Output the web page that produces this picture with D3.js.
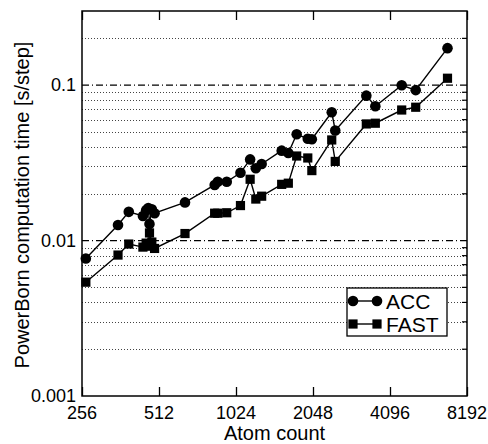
<!DOCTYPE html>
<html>
<head>
<meta charset="utf-8">
<script src="https://cdn.jsdelivr.net/npm/d3@7/dist/d3.min.js"></script>
<style>
 body { margin: 0; background: #fff; }
 text { font-family: "Liberation Sans", Arial, sans-serif; fill: #000; }
</style>
</head>
<body>
<script>
 // *** atom counts (shared by both series)
 var atoms = [265, 354, 390, 443, 456, 465, 470, 480, 492, 647, 845, 869, 942, 1066, 1163, 1224, 1290,
  1545, 1640, 1768, 1954, 2027, 2424, 2502, 3310, 3589, 4551, 5163, 6873];

 // *** computation time [s/step]
 var accTime = [0.00766, 0.0126, 0.0153, 0.0144, 0.0157, 0.0162, 0.0128, 0.0159, 0.0150, 0.0176, 0.0228, 0.0239,
  0.0239, 0.0273, 0.0333, 0.0292, 0.0311, 0.0379, 0.0366, 0.0483, 0.0452, 0.0449, 0.0669, 0.0511, 0.0856,
  0.0731, 0.0999, 0.0929, 0.173];
 var fastTime = [0.0054, 0.00807, 0.0095, 0.00908, 0.00963, 0.0092, 0.0112, 0.00978, 0.0089, 0.0111, 0.0150,
  0.0150, 0.0151, 0.0168, 0.0248, 0.0185, 0.0193, 0.0230, 0.0234, 0.0350, 0.0340, 0.0282, 0.0444, 0.0323,
  0.0563, 0.0569, 0.0692, 0.0721, 0.1108];

 var xTicks = [256, 512, 1024, 2048, 4096, 8192];
 var yTicks = [0.001, 0.01, 0.1];
 var seriesNames = ["ACC", "FAST"];

 var width = 488
 var height = 444
 var plotLeft = 82, plotRight = 467, plotTop = 11, plotBottom = 396;

 var svg = d3.select('body')
  .append('svg')
  .attr('width', width)
  .attr('height', height);

 var xScale = d3.scaleLog().base(2)
  .domain([256, 8192])
  .range([plotLeft, plotRight]);

 var yScale = d3.scaleLog()
  .domain([0.001, 0.3])
  .range([plotBottom, plotTop]);

 // *** horizontal grid: dotted minors, dashed decades
 var minors = [];
 [0.001, 0.01, 0.1].forEach(function(dec) {
  for (var k = 2; k <= 9; k++) {
   var v = dec * k;
   if (v < 0.29) minors.push(v);
  }
 });

 svg.append('g').selectAll('line')
  .data(minors)
  .enter()
  .append('line')
  .attr('x1', plotLeft).attr('x2', plotRight)
  .attr('y1', function(d) { return Math.round(yScale(d)) + 0.5 })
  .attr('y2', function(d) { return Math.round(yScale(d)) + 0.5 })
  .attr('stroke', '#444')
  .attr('stroke-width', 1)
  .attr('stroke-dasharray', '1,2');

 svg.append('g').selectAll('line')
  .data([0.01, 0.1])
  .enter()
  .append('line')
  .attr('x1', plotLeft).attr('x2', plotRight)
  .attr('y1', function(d) { return yScale(d) }).attr('y2', function(d) { return yScale(d) })
  .attr('stroke', '#000')
  .attr('stroke-width', 1.2)
  .attr('stroke-dasharray', '7,3,1,3');

 // *** right side minor ticks
 svg.append('g').selectAll('line')
  .data(minors)
  .enter()
  .append('line')
  .attr('x1', plotRight - 5).attr('x2', plotRight)
  .attr('y1', function(d) { return yScale(d) }).attr('y2', function(d) { return yScale(d) })
  .attr('stroke', '#000')
  .attr('stroke-width', 1.2);

 //x axis (inward ticks bottom and top)
 var xAxis = d3.axisTop(xScale).tickValues(xTicks).tickSize(9).tickFormat('');
 svg.append('g')
  .attr('transform', 'translate(0,' + plotBottom + ')')
  .call(xAxis)
  .call(function(g) { g.select('.domain').remove(); })
  .selectAll('line').attr('stroke-width', 1.3);

 var xAxisTop = d3.axisBottom(xScale).tickValues(xTicks).tickSize(9).tickFormat('');
 svg.append('g')
  .attr('transform', 'translate(0,' + plotTop + ')')
  .call(xAxisTop)
  .call(function(g) { g.select('.domain').remove(); })
  .selectAll('line').attr('stroke-width', 1.3);

 // x tick labels
 svg.append('g').selectAll('text')
  .data(xTicks)
  .enter()
  .append('text')
  .attr('x', function(d) { return xScale(d) })
  .attr('y', 419)
  .attr('text-anchor', 'middle')
  .style('font-size', '18px')
  .text(function(d) { return d });

 // y tick labels
 svg.append('g').selectAll('text')
  .data(yTicks)
  .enter()
  .append('text')
  .attr('x', 76)
  .attr('y', function(d) { return yScale(d) })
  .attr('dy', '0.35em')
  .attr('text-anchor', 'end')
  .style('font-size', '18px')
  .text(function(d) { return d });

 // *** lines
 var line = d3.line()
  .x(function(d) { return xScale(d[0]) })
  .y(function(d) { return yScale(d[1]) });

 var accData = atoms.map(function(a, i) { return [a, accTime[i]] });
 var fastData = atoms.map(function(a, i) { return [a, fastTime[i]] });

 [accData, fastData].forEach(function(data) {
  svg.append('path')
   .datum(data)
   .attr('d', line)
   .attr('fill', 'none')
   .attr('stroke', '#000')
   .attr('stroke-width', 1.4);
 });

 svg.append('g').selectAll('circle')
  .data(accData)
  .enter()
  .append('circle')
  .attr('cx', function(d) { return xScale(d[0]) })
  .attr('cy', function(d) { return yScale(d[1]) })
  .attr('r', 5.3)
  .attr('fill', '#000');

 svg.append('g').selectAll('rect')
  .data(fastData)
  .enter()
  .append('rect')
  .attr('x', function(d) { return xScale(d[0]) - 4.6 })
  .attr('y', function(d) { return yScale(d[1]) - 4.6 })
  .attr('width', 9.2)
  .attr('height', 9.2)
  .attr('fill', '#000');

 // *** frame
 svg.append('rect')
  .attr('x', plotLeft).attr('y', plotTop)
  .attr('width', plotRight - plotLeft).attr('height', plotBottom - plotTop)
  .attr('fill', 'none')
  .attr('stroke', '#000')
  .attr('stroke-width', 1.5);

 // *** legend
 var legend = svg.append('g').attr('transform', 'translate(347,288)');
 legend.append('rect')
  .attr('width', 100).attr('height', 48)
  .attr('fill', '#fff')
  .attr('stroke', '#000')
  .attr('stroke-width', 1.3);

 seriesNames.forEach(function(name, i) {
  var cy = 13 + i * 23;
  legend.append('line')
   .attr('x1', 6).attr('x2', 30)
   .attr('y1', cy).attr('y2', cy)
   .attr('stroke', '#000').attr('stroke-width', 1.4);
  [6, 30].forEach(function(cx) {
   if (i == 0) {
    legend.append('circle').attr('cx', cx).attr('cy', cy).attr('r', 5.3).attr('fill', '#000');
   } else {
    legend.append('rect').attr('x', cx - 4.6).attr('y', cy - 4.6)
     .attr('width', 9.2).attr('height', 9.2).attr('fill', '#000');
   }
  });
  legend.append('text')
   .attr('x', 39)
   .attr('y', cy)
   .attr('dy', '0.36em')
   .style('font-size', '21px')
   .text(name);
 });

 // x axis label
 svg.append('text')
  .attr('x', (plotLeft + plotRight) / 2)
  .attr('y', 440)
  .attr('text-anchor', 'middle')
  .style('font-size', '20px')
  .text('Atom count');

 // y axis label
 svg.append('text')
  .attr('text-anchor', 'middle')
  .style('font-size', '20px')
  .attr('transform', 'translate(29,' + 205 + ') rotate(-90)')
  .text('PowerBorn computation time [s/step]');
</script>
</body>
</html>
